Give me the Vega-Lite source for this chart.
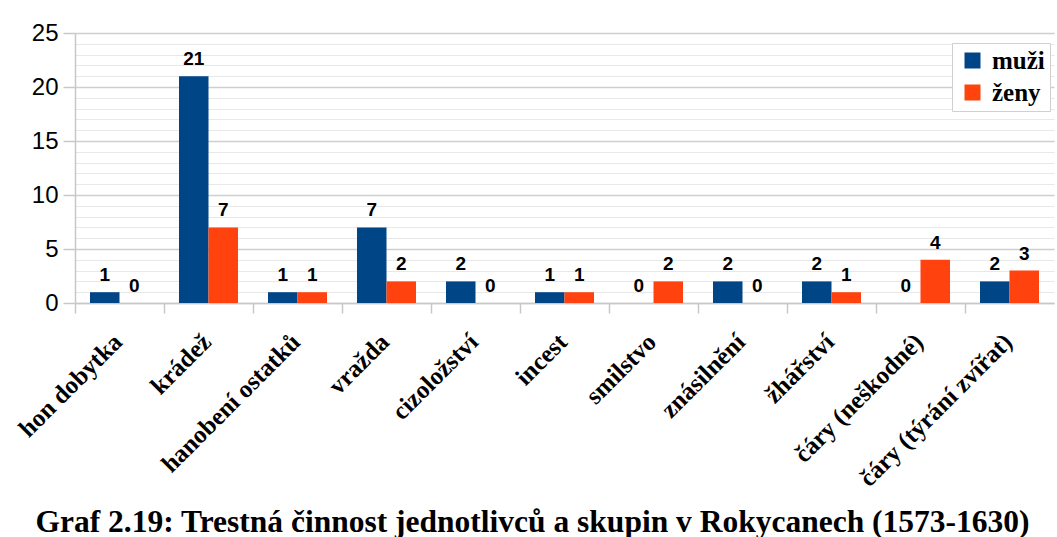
{
  "$schema": "https://vega.github.io/schema/vega-lite/v6.json",
  "autosize": {"type": "none"},
  "width": 979,
  "height": 270,
  "padding": {"left": 75, "top": 33, "right": 3, "bottom": 234},
  "background": "white",
  "config": {"view": {"stroke": null}},
  "title": {
    "text": "Graf 2.19: Trestná činnost jednotlivců a skupin v Rokycanech (1573-1630)",
    "orient": "bottom",
    "anchor": "middle",
    "dx": -32,
    "offset": 16,
    "font": "Liberation Serif",
    "fontWeight": "bold",
    "fontSize": 31.5,
    "color": "#000000"
  },
  "data": {
    "values": [
      {"cat": "hon dobytka", "sex": "muži", "n": 1},
      {"cat": "hon dobytka", "sex": "ženy", "n": 0},
      {"cat": "krádež", "sex": "muži", "n": 21},
      {"cat": "krádež", "sex": "ženy", "n": 7},
      {"cat": "hanobení ostatků", "sex": "muži", "n": 1},
      {"cat": "hanobení ostatků", "sex": "ženy", "n": 1},
      {"cat": "vražda", "sex": "muži", "n": 7},
      {"cat": "vražda", "sex": "ženy", "n": 2},
      {"cat": "cizoložství", "sex": "muži", "n": 2},
      {"cat": "cizoložství", "sex": "ženy", "n": 0},
      {"cat": "incest", "sex": "muži", "n": 1},
      {"cat": "incest", "sex": "ženy", "n": 1},
      {"cat": "smilstvo", "sex": "muži", "n": 0},
      {"cat": "smilstvo", "sex": "ženy", "n": 2},
      {"cat": "znásilnění", "sex": "muži", "n": 2},
      {"cat": "znásilnění", "sex": "ženy", "n": 0},
      {"cat": "žhářství", "sex": "muži", "n": 2},
      {"cat": "žhářství", "sex": "ženy", "n": 1},
      {"cat": "čáry (neškodné)", "sex": "muži", "n": 0},
      {"cat": "čáry (neškodné)", "sex": "ženy", "n": 4},
      {"cat": "čáry (týrání zvířat)", "sex": "muži", "n": 2},
      {"cat": "čáry (týrání zvířat)", "sex": "ženy", "n": 3}
    ]
  },
  "encoding": {
    "x": {
      "field": "cat",
      "type": "nominal",
      "sort": null,
      "scale": {"paddingInner": 0, "paddingOuter": 0},
      "axis": {
        "title": null,
        "bandPosition": 0,
        "labelOffset": -10,
        "labelAngle": -45,
        "labelAlign": "right",
        "labelBaseline": "top",
        "labelFont": "Liberation Serif",
        "labelFontWeight": "bold",
        "labelFontSize": 25,
        "labelColor": "#000000",
        "labelPadding": 16,
        "tickSize": 10,
        "tickColor": "#c8c8c8",
        "tickWidth": 1.5,
        "domainColor": "#c8c8c8",
        "domainWidth": 1.5,
        "grid": false,
        "labelLimit": 400
      }
    },
    "xOffset": {
      "field": "sex",
      "type": "nominal",
      "scale": {"paddingInner": 0, "paddingOuter": 0.508}
    },
    "y": {
      "field": "n",
      "type": "quantitative",
      "scale": {"domain": [0, 25], "nice": false},
      "axis": {
        "title": null,
        "values": [0,1,2,3,4,5,6,7,8,9,10,11,12,13,14,15,16,17,18,19,20,21,22,23,24,25],
        "labelExpr": "datum.value % 5 === 0 ? datum.label : ''",
        "labelFont": "Liberation Sans",
        "labelFontSize": 24,
        "labelColor": "#000000",
        "labelPadding": 5,
        "tickSize": 12,
        "tickColor": "#c8c8c8",
        "tickWidth": 1.5,
        "tickOpacity": {"condition": {"test": "datum.value % 5 === 0", "value": 1}, "value": 0},
        "grid": true,
        "gridColor": {"condition": {"test": "datum.value % 5 === 0", "value": "#cfcfcf"}, "value": "#e8e8e8"},
        "gridWidth": {"condition": {"test": "datum.value % 5 === 0", "value": 1.5}, "value": 1.2},
        "domainColor": "#c8c8c8",
        "domainWidth": 1.5
      }
    }
  },
  "layer": [
    {
      "mark": {"type": "bar"},
      "encoding": {
        "color": {
          "field": "sex",
          "type": "nominal",
          "scale": {"domain": ["muži", "ženy"], "range": ["#004586", "#ff420e"]},
          "legend": {
            "title": null,
            "orient": "none",
            "legendX": 877,
            "legendY": 10,
            "direction": "vertical",
            "symbolType": "square",
            "symbolSize": 256,
            "symbolStrokeWidth": 0,
            "symbolOffset": 3,
            "labelFont": "Liberation Serif",
            "labelFontWeight": "bold",
            "labelFontSize": 25,
            "labelColor": "#000000",
            "labelOffset": 7,
            "rowPadding": 6,
            "padding": 5,
            "strokeColor": "#d0d0d0",
            "fillColor": "white"
          }
        }
      }
    },
    {
      "mark": {
        "type": "text",
        "baseline": "alphabetic",
        "dy": -11,
        "font": "Liberation Sans",
        "fontWeight": "bold",
        "fontSize": 19,
        "color": "#000000"
      },
      "encoding": {"text": {"field": "n", "type": "quantitative"}}
    }
  ]
}
